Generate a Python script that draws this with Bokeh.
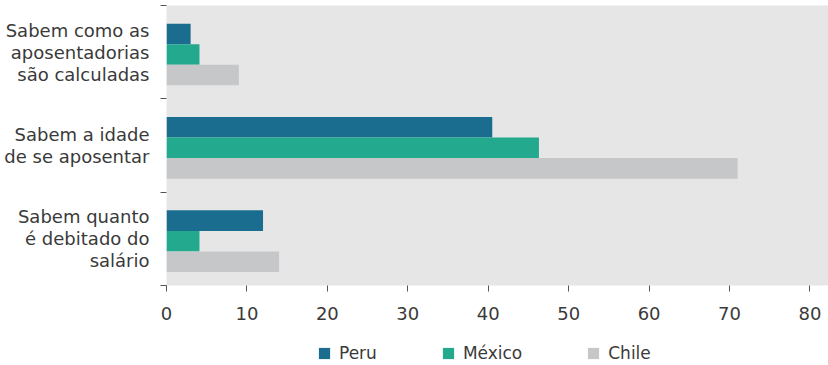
from bokeh.plotting import figure
from bokeh.layouts import column
from bokeh.models import ColumnDataSource, FixedTicker, Legend, LegendItem
from bokeh.embed import file_html
from bokeh.resources import INLINE

categories = ["Sabem como as\naposentadorias\nsão calculadas",
              "Sabem a idade\nde se aposentar",
              "Sabem quanto\né debitado do\nsalário"]
series = ["Peru", "México", "Chile"]
peru = [3, 40.5, 12]
mexico = [4.1, 46.3, 4.1]
chile = [9, 71, 14]
colors = ["#1b6d8f", "#23a98e", "#c6c7c9"]
x_ticks = [0, 10, 20, 30, 40, 50, 60, 70, 80]

n = len(categories)
centers = [n - i - 0.5 for i in range(n)]
offsets = [0.195, -0.025, -0.245]
bar_h = 0.22
FONT = "DejaVu Sans"
TXT = "#3a3a3a"

p = figure(frame_width=662, frame_height=280, output_backend="svg", toolbar_location=None,
           x_range=(0, 82.3), y_range=(0, n),
           min_border_left=166, min_border_right=0, min_border_top=5, min_border_bottom=0)
p.background_fill_color = "#e6e6e6"
p.border_fill_color = "white"
p.outline_line_color = None
p.grid.visible = False

sources = []
for vals, name, col, off in zip([peru, mexico, chile], series, colors, offsets):
    src = ColumnDataSource(dict(y=[c + off for c in centers], right=vals))
    sources.append(src)
    p.hbar(y="y", right="right", left=0, height=bar_h, source=src,
           fill_color=col, line_color=None)

p.xaxis.ticker = FixedTicker(ticks=x_ticks)
p.xaxis.axis_line_color = None
p.xaxis.major_tick_line_color = "#555555"
p.xaxis.major_tick_out = 6
p.xaxis.major_tick_in = 0
p.xaxis.minor_tick_line_color = None
p.xaxis.major_label_text_font = FONT
p.xaxis.major_label_text_font_size = "18px"
p.xaxis.major_label_text_color = TXT
p.xaxis.major_label_standoff = 15

p.yaxis.ticker = FixedTicker(ticks=centers, minor_ticks=[0, 1, 2, 3])
p.yaxis.major_label_overrides = {c: lab for c, lab in zip(centers, categories)}
p.yaxis.axis_line_color = None
p.yaxis.major_tick_line_color = None
p.yaxis.major_tick_out = 0
p.yaxis.minor_tick_line_color = "#555555"
p.yaxis.minor_tick_out = 6
p.yaxis.minor_tick_in = 0
p.yaxis.major_label_text_font = FONT
p.yaxis.major_label_text_font_size = "18px"
p.yaxis.major_label_text_color = TXT
p.yaxis.major_label_text_align = "right"
p.yaxis.major_label_text_line_height = 1.05
p.yaxis.major_label_standoff = 11

# legend strip below the chart (same series, drawn outside its visible range)
leg = figure(width=828, height=43, output_backend="svg", toolbar_location=None,
             x_range=(0, 1), y_range=(100, 101), min_border=0)
leg.axis.visible = False
leg.grid.visible = False
leg.outline_line_color = None
leg.background_fill_color = "white"
items = []
for src, name, col in zip(sources, series, colors):
    r = leg.hbar(y="y", right="right", left=0, height=bar_h, source=src,
                 fill_color=col, line_color=None)
    items.append(LegendItem(label=name, renderers=[r]))
legend = Legend(items=items, orientation="horizontal", location=(151, 2),
                glyph_width=14, glyph_height=14, label_standoff=8, spacing=64,
                label_text_font=FONT, label_text_font_size="17px",
                label_text_color=TXT, background_fill_alpha=0,
                border_line_color=None, padding=0, margin=0)
leg.add_layout(legend, "center")

layout = column(p, leg, spacing=0)
open("out.html", "w").write(file_html(layout, INLINE))
